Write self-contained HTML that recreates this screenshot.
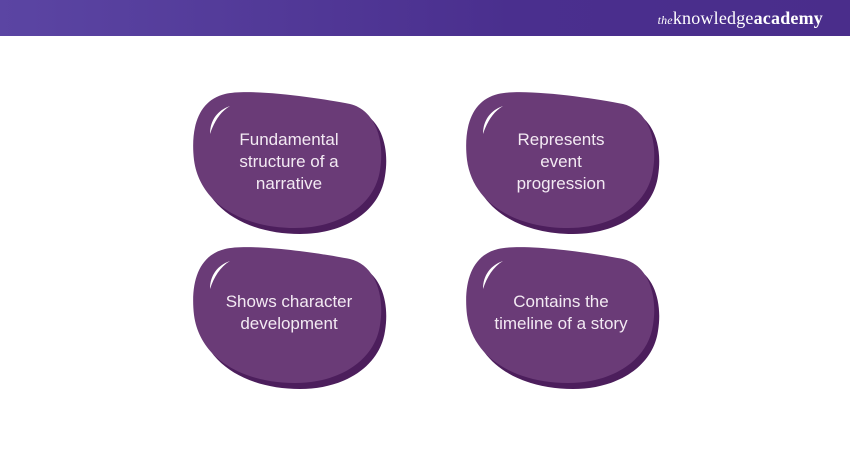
<!DOCTYPE html>
<html><head><style>
body{margin:0;width:850px;height:450px;background:#fff;overflow:hidden;font-family:"Liberation Sans",sans-serif}
.hdr{position:absolute;left:0;top:0;width:850px;height:36px;background:linear-gradient(90deg,#5b45a3,#4a2f8e 60%,#4a2d8b)}
.logo{position:absolute;right:27px;top:8px;color:#fff;font-family:"Liberation Serif",serif;font-size:18px;letter-spacing:0.2px}
.logo i{font-size:12px}
.logo b{font-weight:bold}
</style></head><body>
<div class="hdr"><div class="logo"><i>the</i>knowledge<b>academy</b></div></div>
<svg width="850" height="450" style="position:absolute;left:0;top:0">
<defs>
<path id="b" d="M35 4 C60 -2,130 8,160 14 C185 20,195 50,190 80 C185 115,150 138,105 138 C55 138,10 115,4 70 C0 35,10 10,35 4 Z"/>
<g id="blob">
<use href="#b" transform="translate(5,6)" fill="#4c1e5c"/>
<use href="#b" fill="#6a3b77"/>
<path d="M40 16 C28 20,20 30,20 44 C24 32,30 22,40 16 Z" fill="#fff"/>
</g>
</defs>
<use href="#blob" transform="translate(190,90)"/>
<use href="#blob" transform="translate(463,90)"/>
<use href="#blob" transform="translate(190,245)"/>
<use href="#blob" transform="translate(463,245)"/>
<g fill="#f3eaf3" font-family="Liberation Sans, sans-serif" font-size="17" text-anchor="middle">
<text x="289" y="145">Fundamental</text>
<text x="289" y="167">structure of a</text>
<text x="289" y="189">narrative</text>
<text x="561" y="145">Represents</text>
<text x="561" y="167">event</text>
<text x="561" y="189">progression</text>
<text x="289" y="307">Shows character</text>
<text x="289" y="329">development</text>
<text x="561" y="307">Contains the</text>
<text x="561" y="329">timeline of a story</text>
</g>
</svg>
</body></html>
